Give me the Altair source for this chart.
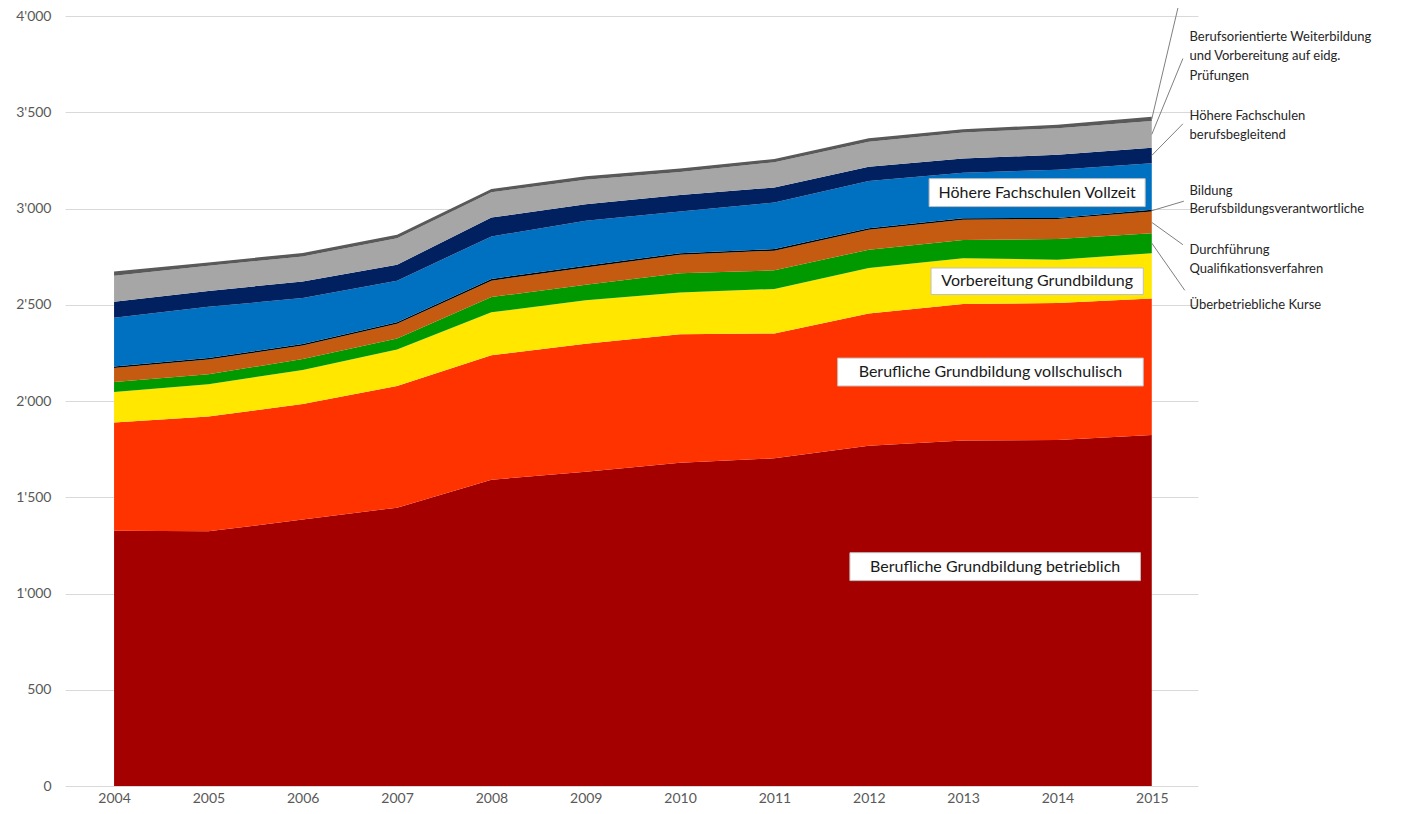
import altair as alt
import pandas as pd

FONT = "Lato"

years = list(range(2004, 2016))

series = [
    "Berufliche Grundbildung betrieblich",
    "Berufliche Grundbildung vollschulisch",
    "Vorbereitung Grundbildung",
    "Überbetriebliche Kurse",
    "Durchführung Qualifikationsverfahren",
    "Bildung Berufsbildungsverantwortliche",
    "Höhere Fachschulen Vollzeit",
    "Höhere Fachschulen berufsbegleitend",
    "Berufsorientierte Weiterbildung und Vorbereitung auf eidg. Prüfungen",
    "Übrige",
]
colors = ["#A50000", "#FF3300", "#FFE700", "#009900", "#C55A11",
          "#000000", "#0070C0", "#002060", "#A6A6A6", "#595959"]

betrieblich = [1326, 1323, 1384, 1446, 1591, 1632, 1679, 1702, 1767, 1795, 1797, 1824]
vollschulisch = [562, 596, 600, 632, 647, 665, 668, 649, 687, 709, 712, 708]
vorbereitung = [159, 168, 177, 190, 223, 226, 216, 231, 237, 238, 225, 236]
ueberbetrieblich = [52, 52, 57, 57, 79, 81, 100, 97, 95, 95, 107, 104]
durchfuehrung = [72, 77, 70, 76, 85, 90, 97, 102, 104, 105, 104, 112]
bbv = [8, 7, 8, 8, 9, 9, 8, 8, 8, 7, 6, 9]
hf_vollzeit = [254, 266, 239, 216, 221, 233, 216, 242, 245, 237, 250, 242]
hf_begleitend = [83, 83, 86, 83, 98, 86, 86, 78, 74, 74, 78, 81]
weiterbildung = [135, 130, 130, 138, 131, 128, 120, 131, 130, 135, 138, 138]
uebrige = [22, 18, 18, 18, 17, 18, 18, 17, 18, 17, 18, 22]

all_values = [betrieblich, vollschulisch, vorbereitung, ueberbetrieblich,
              durchfuehrung, bbv, hf_vollzeit, hf_begleitend, weiterbildung, uebrige]

y_ticks = list(range(0, 4001, 500))

# in-chart boxed labels (data coordinates)
box_labels = ["Berufliche Grundbildung betrieblich",
              "Berufliche Grundbildung vollschulisch",
              "Vorbereitung Grundbildung",
              "Höhere Fachschulen Vollzeit"]
box_x1 = [2011.80, 2011.67, 2012.66, 2012.64]
box_x2 = [2014.88, 2014.91, 2014.91, 2014.93]
box_y1 = [1067, 2078, 2553, 3010]
box_y2 = [1212, 2223, 2691, 3155]

# right-side labels (one row per text line)
side_lines = ["Berufsorientierte Weiterbildung", "und Vorbereitung auf eidg.", "Prüfungen",
              "Höhere Fachschulen", "berufsbegleitend",
              "Bildung", "Berufsbildungsverantwortliche",
              "Durchführung", "Qualifikationsverfahren",
              "Überbetriebliche Kurse"]
side_y = [3891, 3790, 3689, 3482, 3383, 3093, 2997, 2782, 2684, 2497]
side_x = 2015.40

# leader lines: series index -> outer end
leader_series = [9, 8, 7, 5, 4, 3]
leader_x_out = [2015.31, 2015.33, 2015.33, 2015.34, 2015.33, 2015.35]
leader_y_out = [4110, 3779, 3440, 3038, 2812, 2575]

# ---- tables ----
rows = []
for i, (s, vals) in enumerate(zip(series, all_values)):
    for yr, v in zip(years, vals):
        rows.append({"year": yr, "series": s, "value": v, "idx": i})
df = pd.DataFrame(rows)

last = [vals[-1] for vals in all_values]
cum = [sum(last[:i]) for i in range(len(last))]
leader_df = pd.DataFrame({
    "x": [years[-1]] * len(leader_series),
    "y": [cum[i] + last[i] / 2 for i in leader_series],
    "x2": leader_x_out,
    "y2": leader_y_out,
})

box_df = pd.DataFrame({
    "label": box_labels, "x1": box_x1, "x2": box_x2, "y1": box_y1, "y2": box_y2,
})
box_df["cx"] = (box_df["x1"] + box_df["x2"]) / 2
box_df["cy"] = (box_df["y1"] + box_df["y2"]) / 2

side_df = pd.DataFrame({"text": side_lines, "y": side_y, "x": [side_x] * len(side_lines)})

x_scale = alt.Scale(domain=[2003.48, 2015.49], nice=False, zero=False)
y_scale = alt.Scale(domain=[0, 4000], nice=False)

areas = alt.Chart(df).mark_area(interpolate="linear").encode(
    x=alt.X("year:Q", scale=x_scale, title=None,
            axis=alt.Axis(values=years, format="d", grid=False, domain=False, ticks=False,
                          labelPadding=5, labelFont=FONT, labelFontSize=14,
                          labelColor="#595959")),
    y=alt.Y("value:Q", stack="zero", scale=y_scale, title=None,
            axis=alt.Axis(values=y_ticks,
                          labelExpr="replace(format(datum.value, ','), ',', \"'\")",
                          grid=True, gridColor="#D9D9D9", gridWidth=1,
                          domain=False, ticks=False, labelPadding=14,
                          labelFont=FONT, labelFontSize=14, labelColor="#595959")),
    color=alt.Color("series:N", scale=alt.Scale(domain=series, range=colors), legend=None),
    order=alt.Order("idx:Q"),
)

leaders = alt.Chart(leader_df).mark_rule(color="#7F7F7F", strokeWidth=1).encode(
    x=alt.X("x:Q", title=None),
    y=alt.Y("y:Q", title=None),
    x2="x2:Q", y2="y2:Q",
)

boxes = alt.Chart(box_df).mark_rect(fill="white", stroke="#BFBFBF", strokeWidth=1).encode(
    x=alt.X("x1:Q", title=None),
    x2="x2:Q",
    y=alt.Y("y1:Q", title=None),
    y2="y2:Q",
)

box_text = alt.Chart(box_df).mark_text(font=FONT, fontSize=16, color="#1A1A1A",
                                        align="center", baseline="middle").encode(
    x=alt.X("cx:Q", title=None),
    y=alt.Y("cy:Q", title=None),
    text="label:N",
)

side_text = alt.Chart(side_df).mark_text(font=FONT, fontSize=13, color="#262626",
                                          align="left", baseline="middle").encode(
    x=alt.X("x:Q", title=None),
    y=alt.Y("y:Q", title=None),
    text="text:N",
)

chart = alt.layer(areas, leaders, boxes, box_text, side_text).properties(
    width=1133, height=770,
    autosize=alt.AutoSizeParams(type="none"),
    padding={"left": 57, "top": 8, "right": 206, "bottom": 20},
).configure_view(stroke=None)

chart.save("out.html", embed_options={"renderer": "svg", "actions": False})
